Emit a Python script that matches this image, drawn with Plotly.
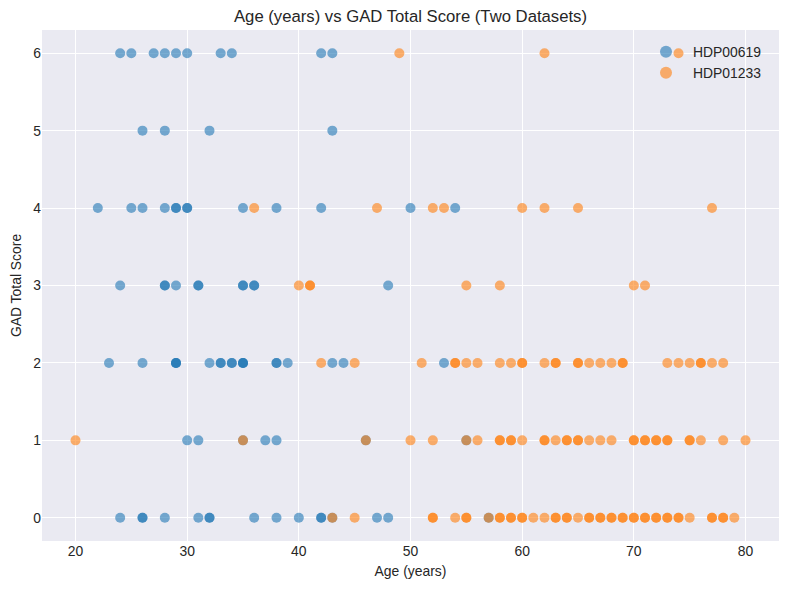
import plotly.graph_objects as go

# HDP00619 ages per GAD score row
hdp00619_ages_by_score = {
    6: [24, 25, 27, 28, 29, 30, 33, 34, 42, 43],
    5: [26, 28, 32, 43],
    4: [22, 25, 26, 28, 29, 29, 30, 30, 35, 38, 42, 50, 54],
    3: [24, 28, 28, 29, 31, 31, 35, 35, 36, 36, 48],
    2: [23, 26, 29, 29, 29, 32, 33, 33, 34, 34, 35, 35, 35, 38, 38, 39, 43, 44, 53],
    1: [30, 31, 35, 37, 38, 46, 55],
    0: [24, 26, 26, 28, 31, 32, 32, 36, 38, 40, 42, 42, 43, 47, 48, 57],
}
# HDP01233 ages per GAD score row
hdp01233_ages_by_score = {
    6: [49, 62, 74],
    4: [36, 47, 52, 53, 60, 62, 65, 77],
    3: [40, 41, 41, 55, 58, 70, 71],
    2: [42, 45, 51, 54, 54, 55, 56, 58, 59, 60, 60, 62, 63, 63, 65, 65, 66, 67, 68,
        69, 69, 73, 74, 75, 76, 76, 77, 78],
    1: [20, 35, 46, 50, 52, 55, 56, 58, 58, 59, 59, 60, 62, 62, 63, 64, 64, 65, 65,
        66, 67, 68, 70, 70, 71, 71, 72, 72, 73, 73, 75, 75, 76, 78, 80],
    0: [43, 45, 52, 52, 54, 55, 55, 57, 58, 58, 59, 59, 60, 60, 61, 62, 63, 63, 64,
        64, 65, 66, 66, 67, 67, 68, 68, 69, 69, 70, 70, 71, 71, 72, 72, 73, 73, 74,
        74, 75, 77, 77, 78, 78, 79],
}

x_ticks = [20, 30, 40, 50, 60, 70, 80]
y_ticks = [0, 1, 2, 3, 4, 5, 6]


def flatten(d):
    xs, ys = [], []
    for score, ages in d.items():
        for a in ages:
            xs.append(a)
            ys.append(score)
    return xs, ys


bx, by = flatten(hdp00619_ages_by_score)
ox, oy = flatten(hdp01233_ages_by_score)

FONT = "Liberation Sans, Arial, sans-serif"
TXT = "#262626"

fig = go.Figure()
fig.add_trace(go.Scatter(
    x=bx, y=by, mode="markers", name="HDP00619",
    marker=dict(color="#1f77b4", size=10, opacity=0.6, line=dict(width=0)),
))
fig.add_trace(go.Scatter(
    x=ox, y=oy, mode="markers", name="HDP01233",
    marker=dict(color="#ff7f0e", size=10, opacity=0.6, line=dict(width=0)),
))

fig.update_layout(
    width=790, height=590,
    margin=dict(l=42, r=11, t=30, b=49),
    paper_bgcolor="white",
    plot_bgcolor="#EAEAF2",
    font=dict(family=FONT, color=TXT, size=13.9),
    title=dict(text="Age (years) vs GAD Total Score (Two Datasets)",
               x=(42 + 779) / 2 / 790, xanchor="center",
               y=1 - 16 / 590, yanchor="middle",
               font=dict(size=16.7, color=TXT, family=FONT)),
    showlegend=True,
    legend=dict(x=(639 - 42) / 737, xanchor="left", y=0.988, yanchor="top",
                bgcolor="rgba(0,0,0,0)", borderwidth=0,
                font=dict(size=13.9, color=TXT, family=FONT),
                itemwidth=44, itemsizing="constant"),
    xaxis=dict(range=[17, 83], tickvals=x_ticks, showgrid=True, gridcolor="white",
               gridwidth=1, zeroline=False, showline=False, ticks="",
               tickfont=dict(size=13.9, color=TXT),
               title=dict(text="Age (years)", font=dict(size=13.9, color=TXT), standoff=8)),
    yaxis=dict(range=[-0.3, 6.3], tickvals=y_ticks, showgrid=True, gridcolor="white",
               gridwidth=1, zeroline=False, showline=False, ticks="",
               tickfont=dict(size=13.9, color=TXT),
               title=dict(text="GAD Total Score", font=dict(size=13.9, color=TXT), standoff=8)),
)

fig.write_html("out.html")
